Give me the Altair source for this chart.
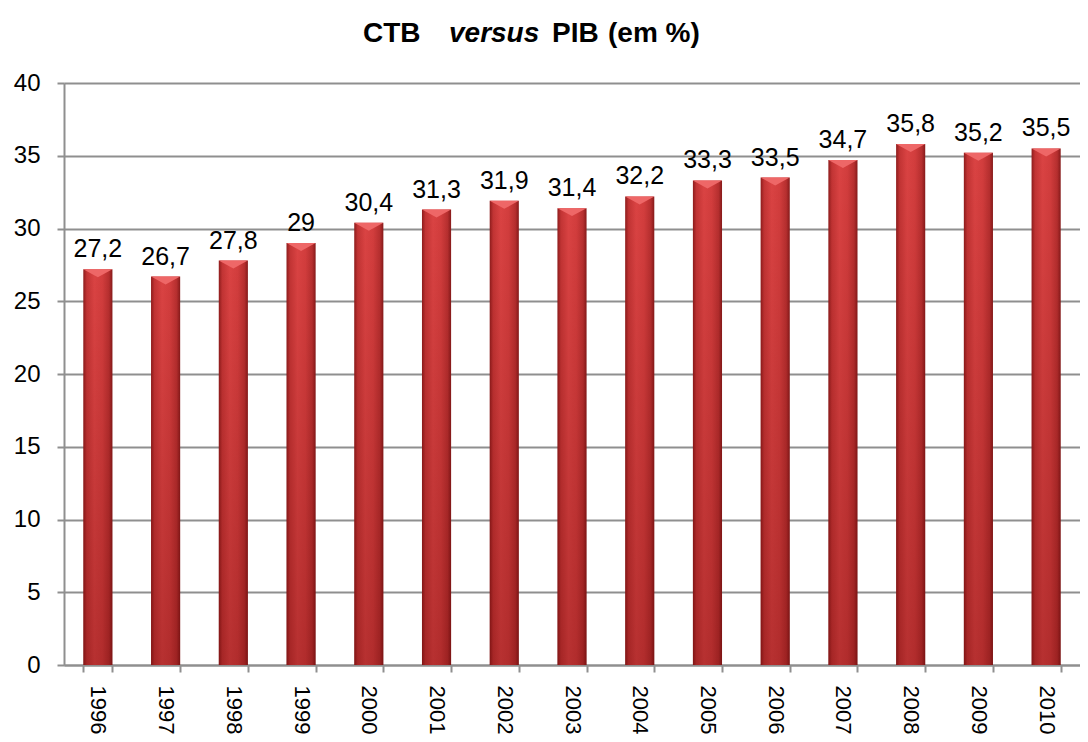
import altair as alt
import pandas as pd

years = ["1996", "1997", "1998", "1999", "2000", "2001", "2002", "2003",
         "2004", "2005", "2006", "2007", "2008", "2009", "2010"]
values = [27.2, 26.7, 27.8, 29, 30.4, 31.3, 31.9, 31.4,
          32.2, 33.3, 33.5, 34.7, 35.8, 35.2, 35.5]
labels = [("%g" % v).replace(".", ",") for v in values]

df = pd.DataFrame({"year": years, "value": values, "label": labels})

FONT = "Liberation Sans"
GRAY = "#8f8f8f"

x_enc = alt.X("year:N", sort=years, title=None,
              scale=alt.Scale(paddingInner=0.57, paddingOuter=0.285),
              axis=alt.Axis(labelAngle=90, labelFontSize=22, labelFont=FONT,
                            labelColor="black", labelPadding=13, tickBand="extent",
                            tickSize=7, tickColor=GRAY, tickWidth=2,
                            domainColor=GRAY, domainWidth=2))
y_enc = alt.Y("value:Q", title=None,
              scale=alt.Scale(domain=[0, 40], nice=False),
              axis=alt.Axis(values=list(range(0, 41, 5)), labelFontSize=24,
                            labelFont=FONT, labelColor="black", labelPadding=17,
                            tickSize=7, tickColor=GRAY, tickWidth=2,
                            domainColor=GRAY, domainWidth=2,
                            grid=True, gridColor=GRAY, gridWidth=2))

base = alt.Chart(df).encode(x=x_enc)

h_grad = alt.Gradient(gradient="linear", x1=0, x2=1, y1=0, y2=0, stops=[
    alt.GradientStop(offset=0, color="#8e1c1c"),
    alt.GradientStop(offset=0.12, color="#c23434"),
    alt.GradientStop(offset=0.38, color="#da4343"),
    alt.GradientStop(offset=0.65, color="#d23d3d"),
    alt.GradientStop(offset=0.88, color="#b62f2f"),
    alt.GradientStop(offset=1, color="#861a1a"),
])
v_grad = alt.Gradient(gradient="linear", x1=0, x2=0, y1=0, y2=1, stops=[
    alt.GradientStop(offset=0, color="rgba(90,0,0,0)"),
    alt.GradientStop(offset=1, color="rgba(90,0,0,0.28)"),
])

bars = base.mark_bar(fill=h_grad).encode(y=y_enc)
shade = base.mark_bar(fill=v_grad).encode(y="value:Q")
bevel = base.mark_point(shape="M -1 0 L 1 0 L 0 0.55 Z", filled=True,
                        fill="#ee6767", opacity=1, strokeWidth=0,
                        size=845).encode(y="value:Q")
text = base.mark_text(baseline="bottom", dy=-7, fontSize=25, font=FONT,
                      color="black").encode(y="value:Q", text="label:N")

one = pd.DataFrame({"k": [0]})


def title_part(txt, x, italic=False):
    return alt.Chart(one).mark_text(
        text=txt, align="left", baseline="alphabetic", fontSize=28,
        font=FONT, fontWeight="bold", fontStyle="italic" if italic else "normal",
        color="black").encode(x=alt.value(x), y=alt.value(-41))


title = (title_part("CTB", 299) + title_part("versus", 385, True)
         + title_part("PIB", 488) + title_part("(em %)", 544))

chart = alt.layer(bars, shade, bevel, text, title).properties(
    width=1016, height=582,
    autosize=alt.AutoSizeParams(type="none"),
    padding={"left": 56, "top": 75, "right": 0, "bottom": 69},
).configure_view(stroke=None).configure(background="white")

chart.save("out.html", embed_options={"renderer": "svg", "actions": False})
